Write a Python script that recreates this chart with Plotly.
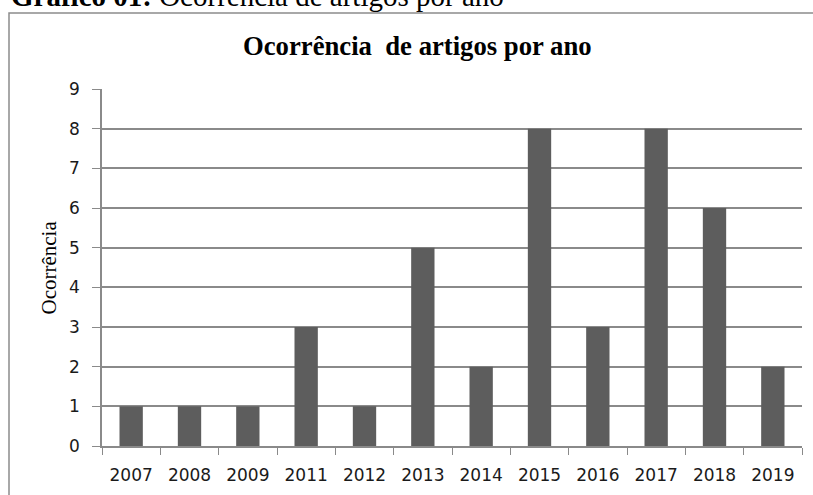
import plotly.graph_objects as go

anos = ["2007", "2008", "2009", "2011", "2012", "2013", "2014", "2015", "2016", "2017", "2018", "2019"]
ocorrencias = [1, 1, 1, 3, 1, 5, 2, 8, 3, 8, 6, 2]
titulo = "Ocorrência  de artigos por ano"
legenda_fig = "<b>Gráfico 01:</b> Ocorrência de artigos por ano"
rotulo_y = "Ocorrência"

W, H = 813, 495
L, R, T, B = 102, 11, 89, 49
pw, ph = W - L - R, H - T - B

def px_x(p):
    return (p - L) / pw

def px_y(p):
    return (H - B - p) / ph

fig = go.Figure()
fig.add_trace(go.Bar(x=anos, y=ocorrencias, marker=dict(color="#5d5d5d", line=dict(width=0))))

grid = "#8a8a8a"
fig.update_layout(
    width=W, height=H,
    margin=dict(l=L, r=R, t=T, b=B, autoexpand=False),
    paper_bgcolor="white", plot_bgcolor="white",
    bargap=0.6,
    showlegend=False,
    xaxis=dict(
        type="category", tickson="boundaries", ticks="outside", ticklen=7,
        tickcolor=grid, tickwidth=1.3, showline=True, linecolor=grid, linewidth=1.5,
        showgrid=False, ticklabelstandoff=13,
        tickfont=dict(family="DejaVu Sans", size=17, color="#1a1a1a"),
    ),
    yaxis=dict(
        range=[0, 9], dtick=1, ticks="outside", ticklen=8, tickcolor=grid, tickwidth=1.3,
        showline=True, linecolor=grid, linewidth=1.5, showgrid=True, gridcolor=grid, gridwidth=1.5,
        zeroline=False, ticklabelstandoff=9,
        tickfont=dict(family="DejaVu Sans", size=17, color="#1a1a1a"),
    ),
    shapes=[dict(
        type="rect", xref="paper", yref="paper",
        x0=px_x(9), x1=px_x(818), y0=px_y(13), y1=px_y(505),
        line=dict(color="#8c8c8c", width=1.5), fillcolor="rgba(0,0,0,0)", layer="below",
    )],
    annotations=[
        dict(text="<b>" + titulo + "</b>", xref="paper", yref="paper", x=px_x(417), y=px_y(46),
             xanchor="center", yanchor="middle", showarrow=False,
             font=dict(family="Liberation Serif", size=26.7, color="black")),
        dict(text=legenda_fig, xref="paper", yref="paper", x=px_x(9), y=px_y(14),
             xanchor="left", yanchor="bottom", showarrow=False,
             font=dict(family="Liberation Serif", size=29, color="black")),
        dict(text=rotulo_y, xref="paper", yref="paper", x=px_x(48), y=0.5,
             xanchor="center", yanchor="middle", textangle=-90, showarrow=False,
             font=dict(family="Liberation Serif", size=21, color="black")),
    ],
)

fig.write_html("out.html", config={"displayModeBar": False},
               post_script="document.body.style.margin='0';document.body.style.overflow='hidden';")
